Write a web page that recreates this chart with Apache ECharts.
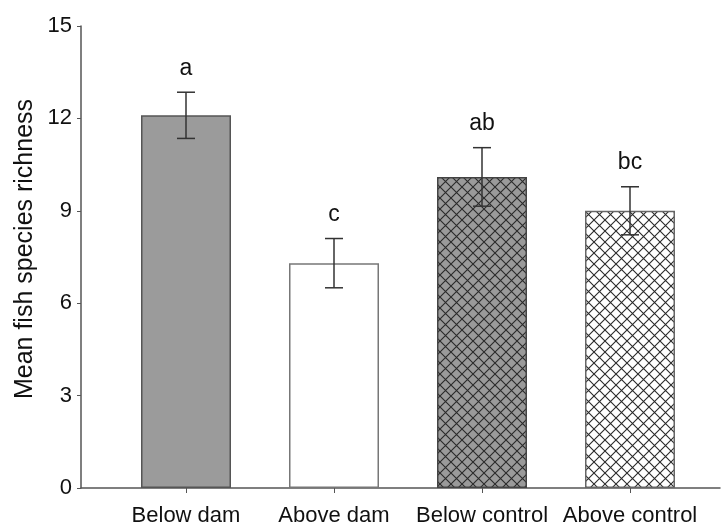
<!DOCTYPE html>
<html><head><meta charset="utf-8">
<script src="https://cdn.jsdelivr.net/npm/echarts@6/dist/echarts.min.js"></script>
<style>html,body{margin:0;padding:0;background:#fff}#c{width:723px;height:530px}</style>
</head><body><div id="c"></div>
<script>
var categories = ['Below dam', 'Above dam', 'Below control', 'Above control'];
var means = [12.1, 7.3, 10.1, 9.0];
var errors = [0.75, 0.8, 0.95, 0.78];
var letters = ['a', 'c', 'ab', 'bc'];
var yTicks = [0, 3, 6, 9, 12, 15];
var yTitle = 'Mean fish species richness';

function hatch(bg) {
  var s = 11, c = document.createElement('canvas');
  c.width = s; c.height = s;
  var g = c.getContext('2d');
  g.fillStyle = bg; g.fillRect(0, 0, s, s);
  g.strokeStyle = '#2a2a2a'; g.lineWidth = 1.1;
  g.beginPath();
  g.moveTo(-1, -1); g.lineTo(s + 1, s + 1);
  g.moveTo(-1, s + 1); g.lineTo(s + 1, -1);
  g.stroke();
  return c;
}
var fills = [
  '#9b9b9b',
  '#ffffff',
  {image: hatch('#9a9a9a'), repeat: 'repeat'},
  {image: hatch('#ffffff'), repeat: 'repeat'}
];
var borders = ['#555', '#777', '#444', '#666'];

var chart = echarts.init(document.getElementById('c'));
var font = 'Liberation Sans, Arial, sans-serif';
chart.setOption({
  animation: false,
  grid: [
    {left: 81, right: 3, top: 26, bottom: 42},
    {left: 112, width: 592, top: 26, bottom: 42}
  ],
  graphic: [
    {type: 'text', x: 25, y: 249, rotation: Math.PI / 2,
     style: {text: yTitle, fill: '#111', fontSize: 25, fontFamily: font,
             align: 'center', verticalAlign: 'middle'}}
  ],
  xAxis: [
    {type: 'value', gridIndex: 0, min: 0, max: 1,
     axisLine: {show: true, lineStyle: {color: '#555', width: 1.5}},
     axisTick: {show: false}, axisLabel: {show: false}, splitLine: {show: false}},
    {type: 'category', gridIndex: 1, data: categories,
     axisLine: {show: false},
     axisTick: {show: true, alignWithLabel: true, length: 5, lineStyle: {color: '#555'}},
     axisLabel: {fontSize: 22, color: '#111', margin: 17, fontFamily: font, interval: 0}}
  ],
  yAxis: [
    {type: 'value', gridIndex: 0, min: yTicks[0], max: yTicks[yTicks.length - 1], interval: 3,
     axisLine: {show: true, lineStyle: {color: '#555', width: 1.5}},
     axisTick: {show: true, length: 4, lineStyle: {color: '#555'}},
     axisLabel: {fontSize: 22, color: '#111', margin: 9, fontFamily: font},
     splitLine: {show: false}},
    {type: 'value', gridIndex: 1, min: 0, max: 15, show: false}
  ],
  series: [
    {type: 'bar', xAxisIndex: 1, yAxisIndex: 1, barWidth: 90,
     data: means.map(function (v, i) {
       return {value: v, itemStyle: {color: fills[i], borderColor: borders[i], borderWidth: 1.5}};
     })},
    {type: 'custom', xAxisIndex: 1, yAxisIndex: 1, z: 10,
     data: means.map(function (v, i) { return [i, v - errors[i], v + errors[i]]; }),
     renderItem: function (params, api) {
       var lo = api.coord([api.value(0), api.value(1)]);
       var hi = api.coord([api.value(0), api.value(2)]);
       var x = lo[0], w = 9;
       var st = {stroke: '#333', lineWidth: 1.5};
       return {type: 'group', children: [
         {type: 'line', shape: {x1: x, y1: lo[1], x2: x, y2: hi[1]}, style: st},
         {type: 'line', shape: {x1: x - w, y1: hi[1], x2: x + w, y2: hi[1]}, style: st},
         {type: 'line', shape: {x1: x - w, y1: lo[1], x2: x + w, y2: lo[1]}, style: st},
         {type: 'text', x: x, y: hi[1] - 24, style: {
           text: letters[params.dataIndex], fill: '#111', fontSize: 23, fontFamily: font,
           align: 'center', verticalAlign: 'middle'}}
       ]};
     }}
  ]
});
</script></body></html>
